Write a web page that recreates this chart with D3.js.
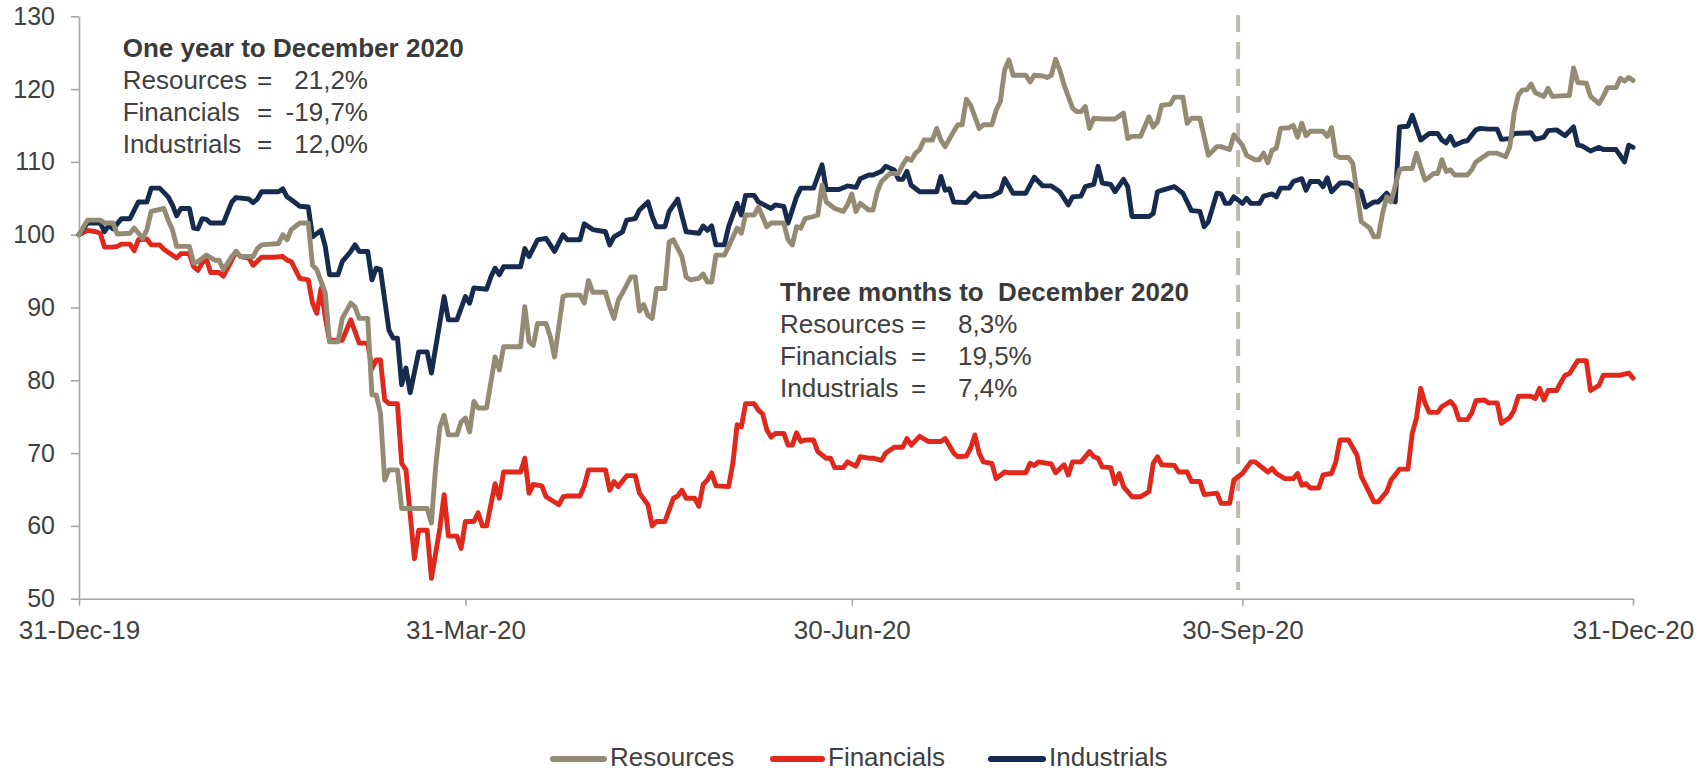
<!DOCTYPE html>
<html>
<head>
<meta charset="utf-8">
<script src="https://cdn.jsdelivr.net/npm/d3@7"></script>
<style>
  html, body { margin: 0; padding: 0; background: #ffffff; }
  svg { display: block; font-family: "Liberation Sans", Arial, sans-serif; }
</style>
</head>
<body>
<svg id="chart" width="1707" height="772"></svg>
<script>
// Index levels (31 Dec 2019 = 100), points as [days after 31 Dec 2019, level]
const resources = [
  [0,100],[2,102.0],[5,102.0],[6,101.6],[8,101.6],[9,100.1],[12,100.2],[13,100.9],[14,100.2],[15,99.5],[16,100.7],[17,103.2],[20,103.6],[21,102.0],[22,100.7],[23,98.4],[26,98.4],[27,96.1],[28,96.3],[30,97.2],[32,96.5],[33,96.5],[34,95.2],[36,97.0],[37,97.7],[38,97.0],[41,97.0],[42,98.1],[43,98.6],[47,98.8],[48,100.0],[49,99.3],[50,100.7],[52,101.6],[54,101.6],[55,95.8],[56,95.2],[58,92.0],[59,85.3],[61,85.3],[62,88.5],[64,90.6],[65,90.1],[66,88.5],[68,88.5],[69,78.0],[70,78.0],[71,75.5],[72,66.3],[73,67.7],[75,67.7],[76,62.4],[82,62.4],[83,60.4],[84,68.1],[85,73.6],[86,75.2],[87,72.5],[89,72.5],[90,74.3],[91,74.8],[92,72.9],[93,77.1],[94,76.2],[96,76.2],[98,83.2],[99,81.4],[100,84.6],[104,84.6],[105,90.1],[106,85.3],[107,84.8],[108,87.8],[110,87.8],[111,86.0],[112,83.2],[114,91.5],[115,91.7],[118,91.7],[119,90.6],[120,93.7],[121,92.1],[124,92.1],[125,90.1],[126,88.5],[127,91.0],[128,92.0],[130,94.2],[131,94.2],[132,89.5],[133,90.4],[134,88.9],[135,88.5],[136,92.6],[138,92.6],[139,99.0],[140,99.3],[142,97.0],[143,94.2],[144,93.8],[146,94.0],[147,94.6],[148,93.5],[149,93.5],[150,97.2],[152,97.2],[153,98.4],[155,100.9],[156,100.2],[157,102.7],[159,102.7],[160,103.8],[162,101.1],[163,101.6],[166,101.6],[167,99.3],[168,98.6],[169,101.1],[170,100.9],[171,102.2],[173,102.5],[174,102.7],[175,106.8],[176,104.5],[178,103.6],[180,103.2],[181,104.1],[182,105.6],[183,103.2],[184,104.3],[186,103.4],[187,103.4],[188,105.9],[189,107.3],[191,108.4],[193,108.4],[194,109.6],[195,110.5],[196,110.2],[197,111.2],[198,111.7],[199,113.0],[201,113.0],[202,114.6],[203,113.0],[204,112.1],[206,114.2],[207,115.1],[208,115.1],[209,118.6],[210,117.8],[211,116.2],[212,114.6],[213,115.1],[215,115.1],[216,117.1],[217,118.3],[218,122.6],[219,124.0],[220,121.9],[223,121.9],[224,121.0],[225,121.9],[227,121.8],[228,121.6],[229,121.9],[230,124.1],[231,122.6],[232,120.6],[234,117.4],[235,116.9],[236,116.9],[237,117.6],[238,114.6],[239,116.0],[241,115.9],[244,115.9],[246,116.7],[247,113.2],[248,113.5],[250,113.5],[252,116.2],[253,114.8],[254,115.5],[255,117.8],[257,117.9],[258,118.9],[260,118.9],[261,115.3],[262,116.0],[264,116.0],[266,110.9],[268,112.1],[269,112.1],[271,111.7],[272,113.7],[274,112.3],[275,110.9],[277,110.3],[278,110.3],[279,111.2],[280,109.9],[281,111.6],[282,111.9],[283,114.6],[285,114.7],[286,115.0],[287,113.4],[288,115.3],[289,113.6],[290,114.2],[293,114.2],[294,113.5],[295,114.7],[296,110.9],[297,110.6],[299,110.6],[300,109.8],[302,101.8],[304,100.9],[305,99.7],[306,99.7],[307,102.9],[308,105.2],[309,104.5],[311,108.9],[312,109.1],[314,109.1],[315,111.2],[316,109.3],[317,107.5],[318,107.9],[319,108.4],[320,108.4],[321,110.3],[322,108.7],[323,108.9],[324,108.2],[327,108.2],[328,108.9],[329,110.0],[332,111.2],[334,111.2],[336,110.7],[337,112.1],[338,116.7],[339,119.2],[340,119.9],[341,119.9],[342,120.7],[343,119.5],[345,119.0],[346,120.1],[347,119.0],[350,119.1],[351,119.1],[352,122.9],[353,120.9],[355,120.8],[356,119.0],[358,118.0],[359,119.0],[360,120.2],[362,120.2],[363,121.5],[364,121.1],[365,121.6],[366,121.2]
];

const financials = [
  [0,100],[2,100.6],[4,100.4],[5,100.2],[6,98.3],[8,98.3],[9,98.4],[10,98.7],[12,98.7],[13,97.8],[14,99.3],[16,99.4],[17,98.6],[19,98.6],[20,98.0],[21,97.6],[23,96.8],[24,97.4],[26,97.4],[27,95.6],[28,95.1],[29,96.1],[30,96.7],[31,94.8],[33,94.8],[34,94.3],[36,96.5],[37,97.7],[38,97.0],[40,96.8],[41,95.8],[43,96.9],[46,96.9],[48,97.0],[49,96.5],[50,96.3],[52,94.0],[54,93.8],[55,90.6],[56,89.2],[57,92.6],[58,88.7],[59,85.5],[62,85.5],[64,88.3],[65,86.7],[66,85.1],[68,85.1],[69,81.6],[70,82.8],[71,82.8],[72,77.3],[73,76.8],[75,76.8],[76,68.6],[77,67.7],[79,55.5],[80,59.4],[82,59.4],[83,52.8],[85,59.7],[86,64.3],[87,58.6],[89,58.6],[90,56.9],[91,60.6],[93,60.6],[94,61.8],[95,60.0],[96,60.0],[98,65.8],[99,63.8],[100,67.4],[104,67.4],[105,69.3],[106,64.5],[107,65.7],[109,65.5],[110,64.0],[113,62.9],[114,64.0],[115,64.1],[118,64.1],[119,65.5],[120,67.7],[124,67.7],[125,64.9],[126,66.1],[127,65.4],[129,66.9],[131,66.9],[132,64.5],[134,62.9],[135,60.0],[136,60.6],[138,60.6],[140,63.8],[141,64.1],[142,64.9],[143,63.8],[145,63.8],[146,62.7],[147,65.7],[148,66.3],[149,67.3],[150,65.5],[153,65.4],[154,68.6],[155,73.9],[156,73.6],[157,76.8],[159,76.8],[160,75.9],[161,75.4],[162,73.2],[163,72.2],[164,72.7],[166,72.7],[167,71.1],[168,71.1],[169,72.8],[170,71.6],[171,71.8],[173,71.8],[174,70.2],[176,69.3],[177,69.3],[178,68.0],[180,68.0],[181,68.8],[183,68.2],[184,69.5],[186,69.3],[187,69.3],[189,69.0],[190,70.0],[192,70.8],[194,70.8],[195,72.0],[196,71.1],[198,72.3],[200,71.6],[203,71.6],[204,72.0],[206,70.0],[207,69.5],[209,69.6],[210,70.7],[211,72.5],[212,70.0],[213,68.8],[215,68.6],[216,66.5],[218,67.4],[219,67.3],[223,67.3],[224,68.6],[225,68.3],[226,68.8],[229,68.5],[230,67.3],[232,68.4],[233,67.0],[234,68.8],[236,68.8],[238,70.2],[239,69.5],[240,69.3],[241,68.1],[243,68.0],[244,65.8],[245,67.2],[246,65.4],[248,64.0],[250,64.0],[252,64.7],[253,68.6],[254,69.5],[255,68.4],[258,68.3],[259,67.4],[261,67.4],[262,66.1],[264,66.1],[265,64.3],[268,64.5],[269,63.1],[271,63.1],[272,66.3],[274,67.2],[276,68.8],[277,68.8],[280,67.4],[281,67.9],[282,67.2],[284,66.5],[286,66.5],[287,67.2],[288,65.6],[289,65.8],[290,65.2],[292,65.2],[293,67.0],[295,67.2],[296,68.8],[297,71.8],[299,71.8],[301,69.7],[302,66.8],[305,63.3],[306,63.3],[308,64.7],[309,66.3],[310,67.0],[311,67.8],[313,67.8],[314,72.7],[315,74.8],[316,78.9],[317,76.9],[318,75.6],[320,75.6],[321,76.4],[323,77.1],[324,76.4],[325,74.6],[327,74.6],[328,75.5],[329,77.2],[331,77.3],[332,76.9],[334,76.9],[335,74.1],[337,74.9],[338,75.9],[339,77.8],[342,77.8],[343,77.5],[344,78.9],[345,77.3],[346,78.6],[348,78.6],[349,79.7],[350,80.7],[351,80.9],[353,82.7],[355,82.7],[356,78.6],[358,79.3],[359,80.7],[363,80.7],[365,81.0],[366,80.3]
];

const industrials = [
  [0,100],[2,101.6],[5,101.6],[6,100.4],[7,101.3],[8,100.8],[10,102.2],[12,102.2],[14,104.5],[16,104.5],[17,106.4],[19,106.4],[21,105.2],[22,104.1],[23,102.6],[24,103.6],[26,103.6],[27,100.9],[28,100.8],[29,102.2],[30,102.1],[31,101.6],[34,101.6],[36,104.5],[37,105.1],[40,104.9],[41,104.4],[42,104.9],[43,105.9],[47,105.9],[48,106.3],[49,105.2],[50,104.8],[52,103.9],[54,103.8],[55,99.7],[57,100.6],[58,98.4],[59,94.5],[61,94.5],[62,96.3],[64,97.7],[65,98.6],[66,97.7],[68,97.7],[69,93.8],[70,95.4],[71,95.2],[73,86.9],[74,85.8],[75,85.8],[76,79.4],[77,81.7],[78,78.3],[80,83.9],[82,83.9],[83,81.0],[86,91.5],[87,88.3],[89,88.3],[91,91.5],[92,90.6],[93,92.7],[96,92.5],[97,94.2],[98,95.4],[99,94.5],[100,95.6],[104,95.6],[105,98.1],[106,97.0],[108,99.3],[110,99.5],[112,97.7],[114,100.0],[115,99.3],[118,99.3],[119,101.5],[121,100.7],[124,100.4],[125,98.6],[126,99.7],[128,100.4],[129,102.0],[131,102.2],[132,103.4],[134,104.5],[135,102.5],[136,101.1],[138,101.1],[139,103.2],[141,104.9],[143,100.4],[146,100.2],[147,101.2],[148,100.6],[149,101.2],[150,98.6],[152,98.6],[153,101.1],[155,104.3],[156,102.7],[157,105.4],[159,105.4],[160,104.5],[163,103.6],[164,104.1],[166,103.9],[167,101.6],[169,105.2],[170,106.4],[173,106.4],[175,109.6],[176,106.2],[179,106.2],[181,106.7],[183,106.5],[184,107.7],[186,108.2],[187,108.2],[189,108.7],[190,109.4],[192,108.9],[193,107.6],[194,107.6],[195,108.7],[196,106.8],[198,105.9],[202,105.9],[203,108.0],[204,106.1],[205,106.3],[206,104.5],[209,104.4],[211,105.7],[212,105.2],[215,105.3],[217,105.9],[218,107.7],[220,105.7],[223,105.7],[225,107.9],[227,106.7],[229,106.7],[231,105.9],[233,104.1],[234,105.2],[236,105.3],[237,106.6],[239,106.9],[240,109.4],[241,107.1],[243,106.9],[244,105.9],[246,107.6],[247,106.6],[248,102.5],[252,102.5],[253,102.9],[254,105.9],[255,106.1],[258,106.6],[260,105.7],[262,103.3],[264,103.2],[265,101.1],[266,101.8],[268,105.7],[269,105.6],[270,104.3],[271,104.3],[272,105.2],[274,104.3],[275,105.0],[276,104.3],[278,104.3],[279,105.3],[281,105.6],[282,105.2],[283,106.4],[285,106.4],[286,107.3],[288,107.7],[289,106.1],[290,107.3],[292,107.3],[293,106.6],[294,107.8],[295,105.9],[297,107.1],[299,107.1],[302,105.9],[303,103.8],[305,104.5],[306,104.5],[308,105.7],[309,104.8],[310,104.5],[311,114.8],[313,114.9],[314,116.4],[316,113.0],[318,113.9],[320,113.9],[321,113.0],[322,112.6],[323,113.5],[324,112.3],[326,112.8],[327,112.9],[329,114.4],[330,114.6],[332,114.5],[334,114.5],[335,113.1],[337,113.2],[338,113.9],[342,114.0],[343,113.1],[345,113.4],[346,114.3],[348,114.4],[350,113.6],[352,114.8],[353,112.3],[354,112.2],[356,111.5],[358,112.0],[359,111.7],[362,111.7],[364,110.0],[365,112.3],[366,112.0]
];

const seriesNames = ["Resources", "Financials", "Industrials"];
const seriesColors = ["#948B74", "#E0281D", "#162B4D"];
const oneYearReturns = ["21,2%", "-19,7%", "12,0%"];
const threeMonthReturns = ["8,3%", "19,5%", "7,4%"];
const xTickDates = ["2019-12-31", "2020-03-31", "2020-06-30", "2020-09-30", "2020-12-31"];
const yTickValues = [50, 60, 70, 80, 90, 100, 110, 120, 130];
const quarterStart = "2020-09-29";

const parseDate = d3.timeParse("%Y-%m-%d");
const baseDate = parseDate("2019-12-31");
const dayToDate = d => d3.timeDay.offset(baseDate, d);

const svg = d3.select("#chart");
const textColor = "#404040";
const axisColor = "#A6A6A6";

const x = d3.scaleTime()
  .domain([parseDate("2019-12-31"), parseDate("2020-12-31")])
  .range([79, 1633]);
const y = d3.scaleLinear().domain([50, 130]).range([598.7, 16.3]);

// Y axis
const yAxis = svg.append("g")
  .attr("transform", "translate(79,0)")
  .call(d3.axisLeft(y).tickValues(yTickValues).tickSize(8).tickSizeOuter(0).tickPadding(16));
yAxis.select(".domain").attr("stroke", axisColor).attr("stroke-width", 1.6);
yAxis.selectAll(".tick line").attr("stroke", axisColor).attr("stroke-width", 1.6);
yAxis.selectAll(".tick text")
  .attr("fill", textColor).style("font-size", "25px")
  .style("font-family", "'Liberation Sans', Arial, sans-serif");

// X axis
const xAxis = svg.append("g")
  .attr("transform", `translate(0,${y(50)})`)
  .call(d3.axisBottom(x)
    .tickValues(xTickDates.map(parseDate))
    .tickFormat(d3.timeFormat("%d-%b-%y"))
    .tickSize(7).tickSizeOuter(0).tickPadding(15));
xAxis.select(".domain").attr("stroke", axisColor).attr("stroke-width", 1.6);
xAxis.selectAll(".tick line").attr("stroke", axisColor).attr("stroke-width", 1.6);
xAxis.selectAll(".tick text")
  .attr("fill", textColor).style("font-size", "26px")
  .style("font-family", "'Liberation Sans', Arial, sans-serif");

// Start of the final quarter
svg.append("line")
  .attr("x1", x(parseDate(quarterStart))).attr("x2", x(parseDate(quarterStart)))
  .attr("y1", 15).attr("y2", 590)
  .attr("stroke", "#BEBAAF").attr("stroke-width", 4)
  .attr("stroke-dasharray", "17,10");

// Series lines
const line = d3.line()
  .x(d => x(dayToDate(d[0])))
  .y(d => y(d[1]));

const seriesData = [resources, financials, industrials];
const drawOrder = [1, 2, 0];
drawOrder.forEach(i => {
  svg.append("path")
    .datum(seriesData[i])
    .attr("fill", "none")
    .attr("stroke", seriesColors[i])
    .attr("stroke-width", 4.9)
    .attr("stroke-linejoin", "round")
    .attr("stroke-linecap", "round")
    .attr("d", line);
});

// Annotation blocks
function annotation(title, tx, baseY, eqX, values, valueX, anchor) {
  const g = svg.append("g").attr("fill", textColor).style("font-size", "26px");
  g.append("text").attr("x", tx).attr("y", baseY)
    .style("font-weight", "bold").attr("fill", "#3A3A3A").text(title);
  seriesNames.forEach((name, i) => {
    const yy = baseY + 32 * (i + 1);
    g.append("text").attr("x", tx).attr("y", yy).text(name);
    g.append("text").attr("x", eqX).attr("y", yy).text("=");
    g.append("text").attr("x", valueX).attr("y", yy)
      .attr("text-anchor", anchor).text(values[i]);
  });
}
annotation("One year to December 2020", 122.7, 57, 257, oneYearReturns, 368, "end");
annotation("Three months to\u00A0 December 2020", 780, 301, 911, threeMonthReturns, 958, "start");

// Legend
const legendX = [[550, 607, 610], [770, 825, 828], [988, 1046, 1049]];
const legend = svg.append("g");
seriesNames.forEach((name, i) => {
  const [a, b, t] = legendX[i];
  legend.append("line")
    .attr("x1", a + 3).attr("x2", b - 3).attr("y1", 759).attr("y2", 759)
    .attr("stroke", seriesColors[i]).attr("stroke-width", 6).attr("stroke-linecap", "round");
  legend.append("text")
    .attr("x", t).attr("y", 765.5)
    .attr("fill", textColor).style("font-size", "26px")
    .text(name);
});
</script>
</body>
</html>
